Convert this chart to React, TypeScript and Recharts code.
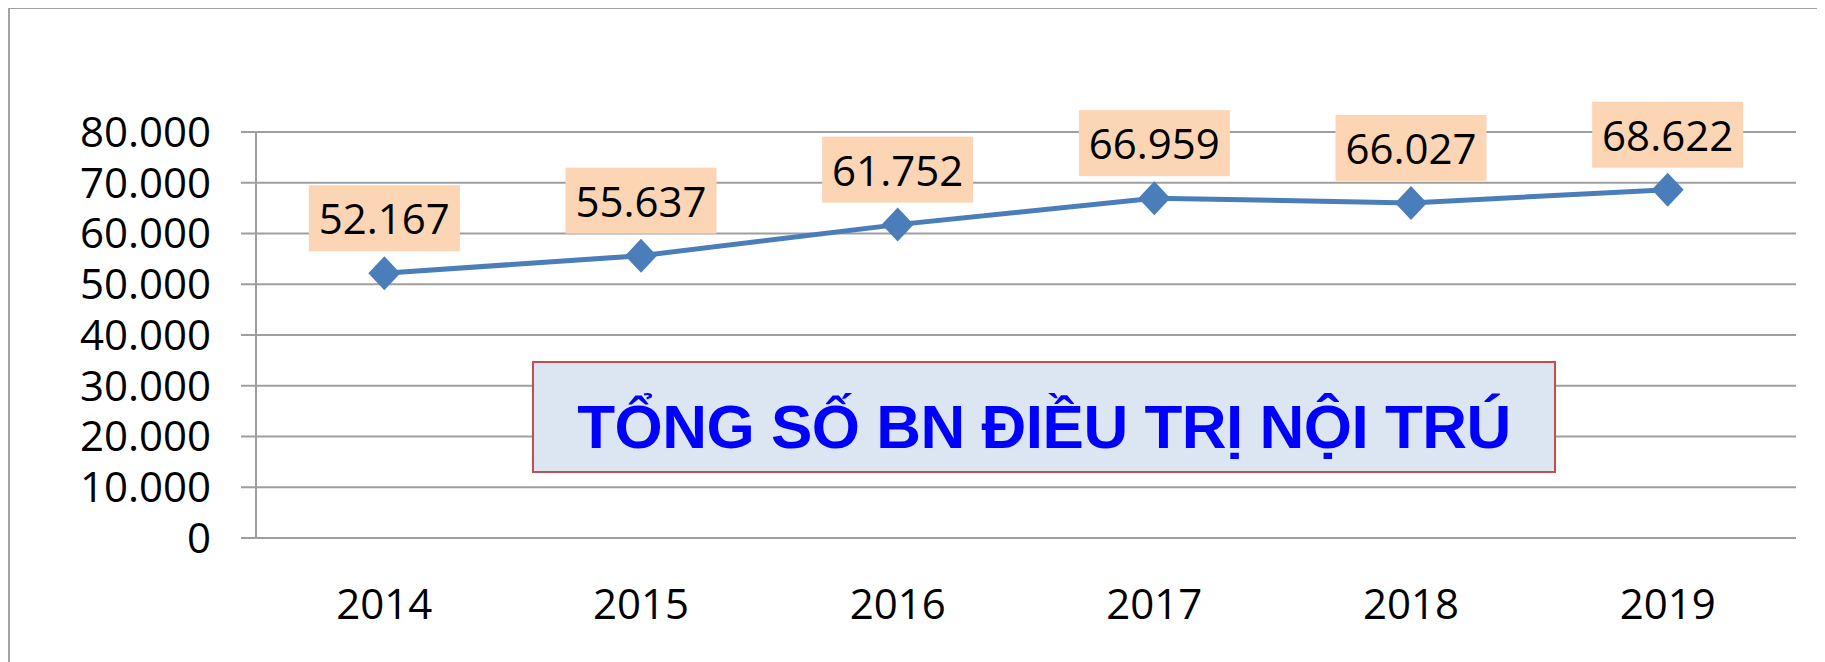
import React from "react"
import { LineChart, Line, XAxis, YAxis, CartesianGrid, LabelList } from "recharts"

const years = ["2014", "2015", "2016", "2017", "2018", "2019"]
const patients = [52167, 55637, 61752, 66959, 66027, 68622]
const yTicks = [0, 10000, 20000, 30000, 40000, 50000, 60000, 70000, 80000]
const boundaryTicks = [0, 1, 2, 3, 4, 5, 6]
const title = "TỔNG SỐ BN ĐIỀU TRỊ NỘI TRÚ"

const data = years.map((year, i) => ({ year, value: patients[i] }))

const fmt = (v: number) => String(v).replace(/\B(?=(\d{3})+(?!\d))/g, ".")

const W = 1817
const H = 654
const GRID = "#9f9f9f"
const BLUE = "#4a7ebb"
const FONT = "'Open Sans', sans-serif"

const Diamond = (props: any) => {
  const { cx, cy, index } = props
  if (cx == null || cy == null) return <g key={index} />
  return (
    <polygon
      key={index}
      points={`${cx},${cy - 17} ${cx + 16},${cy} ${cx},${cy + 17} ${cx - 16},${cy}`}
      fill={BLUE}
    />
  )
}

const ValueBox = (props: any) => {
  const { x, y, value } = props
  return (
    <g>
      <rect x={x - 75.5} y={y - 88} width={151} height={66} fill="#fcd5b5" />
      <text x={x} y={y - 39} textAnchor="middle" fontFamily={FONT} fontSize={42} fill="#000">
        {fmt(value)}
      </text>
    </g>
  )
}

export default function App() {
  return (
    <div style={{ position: "relative", width: W, height: H, overflow: "hidden", background: "#fff" }}>
      <div
        style={{
          position: "absolute",
          left: 0,
          top: -1,
          width: W + 10,
          height: H + 10,
          borderTop: "2.5px solid #a3a3a3",
          borderLeft: "2.5px solid #a3a3a3",
          boxSizing: "border-box",
        }}
      />
      <div style={{ position: "absolute", left: 0, top: 0 }}>
        <LineChart width={W} height={H} data={data} margin={{ top: 124, right: 29, bottom: 63, left: 0 }}>
          <CartesianGrid vertical={false} stroke={GRID} strokeWidth={2} />
          <XAxis
            xAxisId="year"
            dataKey="year"
            scale="band"
            axisLine={false}
            tickLine={false}
            tickSize={6}
            tickMargin={44}
            height={60}
            interval={0}
            tick={{ fill: "#000", fontSize: 42, fontFamily: FONT }}
          />
          <XAxis
            xAxisId="edge"
            type="number"
            domain={[0, 6]}
            ticks={boundaryTicks}
            tick={false}
            tickSize={16}
            height={1}
            stroke={GRID}
            strokeWidth={2}
          />
          <YAxis
            domain={[0, 80000]}
            ticks={yTicks}
            tickFormatter={fmt}
            interval={0}
            width={248}
            tickSize={15}
            tickMargin={30}
            stroke={GRID}
            strokeWidth={2}
            tick={{ fill: "#000", fontSize: 42, fontFamily: FONT }}
          />
          <Line
            xAxisId="year"
            dataKey="value"
            stroke={BLUE}
            strokeWidth={5}
            dot={Diamond}
            activeDot={false}
            isAnimationActive={false}
          >
            <LabelList dataKey="value" content={ValueBox} />
          </Line>
        </LineChart>
      </div>
      <div
        style={{
          position: "absolute",
          left: 524,
          top: 353,
          width: 1024,
          height: 112,
          boxSizing: "border-box",
          background: "#dce6f2",
          border: "2px solid #c0504d",
          display: "flex",
          alignItems: "center",
          justifyContent: "center",
          fontFamily: "'Liberation Sans', Arial, sans-serif",
          fontWeight: "bold",
          fontSize: 62,
          letterSpacing: -0.5,
          color: "#0000ff",
          paddingTop: 18,
        }}
      >
        {title}
      </div>
    </div>
  )
}
